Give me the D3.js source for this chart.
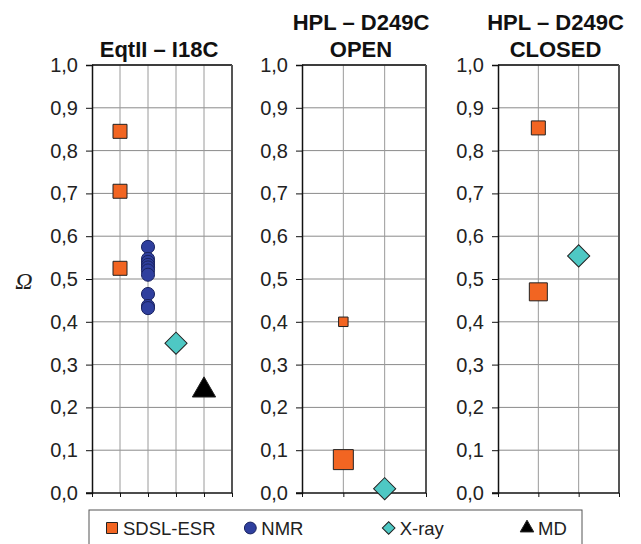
<!DOCTYPE html>
<html>
<head>
<meta charset="utf-8">
<script src="https://cdn.jsdelivr.net/npm/d3@7"></script>
<style>
  body { margin: 0; background: #fff; }
</style>
</head>
<body>
<svg id="chart" width="641" height="544"></svg>
<script>
// data
const panelTitles = [["EqtII – I18C"], ["HPL – D249C", "OPEN"], ["HPL – D249C", "CLOSED"]];
const yTickValues = [0, 0.1, 0.2, 0.3, 0.4, 0.5, 0.6, 0.7, 0.8, 0.9, 1.0];
const seriesNames = ["SDSL-ESR", "NMR", "X-ray", "MD"];

// EqtII - I18C
const eqtSdsl = [0.845, 0.705, 0.525];
const eqtNmr = [0.575, 0.547, 0.54, 0.533, 0.527, 0.52, 0.51, 0.465, 0.437, 0.432];
const eqtXray = [0.35];
const eqtMd = [0.24];
// HPL - D249C open
const openSdsl = [0.40, 0.078];
const openXray = [0.01];
// HPL - D249C closed
const closedSdsl = [0.853, 0.47];
const closedXray = [0.554];

const FONT = "Liberation Sans, Arial, sans-serif";
const svg = d3.select("#chart");

const colors = {
  "SDSL-ESR": "#f26522",
  "NMR": "#2f3f9e",
  "X-ray": "#4ec8c4",
  "MD": "#000"
};

// marker sizes (area) per point, the original uses varying square sizes
const sdslSizes = [[196, 196, 196], [90, 400], [196, 324]];

const panels = [
  { x0: 92, x1: 232, n: 5, series: [
      { name: "SDSL-ESR", cat: 1, vals: eqtSdsl },
      { name: "NMR", cat: 2, vals: eqtNmr },
      { name: "X-ray", cat: 3, vals: eqtXray },
      { name: "MD", cat: 4, vals: eqtMd }
    ] },
  { x0: 302, x1: 426, n: 3, series: [
      { name: "SDSL-ESR", cat: 1, vals: openSdsl },
      { name: "X-ray", cat: 2, vals: openXray }
    ] },
  { x0: 498, x1: 619, n: 3, series: [
      { name: "SDSL-ESR", cat: 1, vals: closedSdsl },
      { name: "X-ray", cat: 2, vals: closedXray }
    ] }
];

const y = d3.scaleLinear().domain([0, 1]).range([493, 65]);
const fmt = (d) => d3.format(".1f")(d).replace(".", ",");

const symbolPath = (name, size) => {
  if (name === "NMR") return d3.symbol(d3.symbolCircle, size)();
  if (name === "MD") return d3.symbol(d3.symbolTriangle, size)();
  return d3.symbol(d3.symbolSquare, size)(); // squares, x-ray rotated to a diamond
};
const defaultSize = { "SDSL-ESR": 196, "NMR": 135, "X-ray": 245, "MD": 235 };

panels.forEach((p, pi) => {
  const x = d3.scaleLinear().domain([0, p.n]).range([p.x0, p.x1]);
  const g = svg.append("g");

  // grid
  g.selectAll(".hgrid")
    .data(yTickValues.slice(1))
    .enter()
    .append("line")
    .attr("x1", p.x0).attr("x2", p.x1)
    .attr("y1", (d) => y(d)).attr("y2", (d) => y(d))
    .attr("stroke", "#8a8a8a").attr("stroke-width", 1);
  g.selectAll(".vgrid")
    .data(d3.range(1, p.n))
    .enter()
    .append("line")
    .attr("x1", (d) => x(d)).attr("x2", (d) => x(d))
    .attr("y1", y(1)).attr("y2", y(0))
    .attr("stroke", "#9a9a9a").attr("stroke-width", 1);

  // top + right border
  g.append("line").attr("x1", p.x0).attr("x2", p.x1)
    .attr("y1", y(1)).attr("y2", y(1)).attr("stroke", "#111").attr("stroke-width", 1.5);
  g.append("line").attr("x1", p.x1).attr("x2", p.x1)
    .attr("y1", y(1)).attr("y2", y(0)).attr("stroke", "#555").attr("stroke-width", 2);

  // y axis
  const ya = g.append("g")
    .attr("transform", `translate(${p.x0},0)`)
    .call(d3.axisLeft(y).tickValues(yTickValues).tickFormat(fmt).tickSize(6).tickPadding(8));
  ya.select(".domain").attr("stroke", "#111").attr("stroke-width", 1.5);
  ya.selectAll(".tick line").attr("stroke", "#111");
  ya.selectAll("text").attr("font-size", 20).attr("font-family", FONT).attr("fill", "#222");

  // x axis (no labels)
  const xa = g.append("g")
    .attr("transform", `translate(0,${y(0)})`)
    .call(d3.axisBottom(x).tickValues(d3.range(0, p.n + 1)).tickSize(4).tickFormat(""));
  xa.select(".domain").remove();
  xa.selectAll(".tick line").attr("stroke", "#111");
  g.append("line").attr("x1", p.x0 - 6).attr("x2", p.x1)
    .attr("y1", y(0)).attr("y2", y(0)).attr("stroke", "#111").attr("stroke-width", 1.5);

  // title
  const cx = (p.x0 + p.x1) / 2 - 3;
  const t = svg.append("text")
    .attr("text-anchor", "middle")
    .attr("font-family", FONT)
    .attr("font-size", 22)
    .attr("font-weight", "bold")
    .attr("fill", "#111");
  const lines = panelTitles[pi];
  lines.forEach((l, li) => {
    t.append("tspan")
      .attr("x", cx)
      .attr("y", 57 - (lines.length - 1 - li) * 27)
      .text(l);
  });

  // markers
  p.series.forEach((s) => {
    g.selectAll(null)
      .data(s.vals)
      .enter()
      .append("path")
      .attr("d", (d, i) => symbolPath(s.name,
        s.name === "SDSL-ESR" ? sdslSizes[pi][i] : defaultSize[s.name]))
      .attr("transform", (d) => `translate(${x(s.cat)},${y(d)})` +
        (s.name === "X-ray" ? " rotate(45)" : ""))
      .attr("fill", colors[s.name])
      .attr("stroke", s.name === "NMR" ? "#1a2360" : "#222")
      .attr("stroke-width", 1);
  });
});

// Omega axis label
svg.append("text")
  .attr("x", 24).attr("y", 289)
  .attr("text-anchor", "middle")
  .attr("font-family", "Liberation Serif, Times New Roman, serif")
  .attr("font-style", "italic")
  .attr("font-size", 24)
  .attr("fill", "#222")
  .text("Ω");

// legend
const legend = svg.append("g");
legend.append("rect")
  .attr("x", 89).attr("y", 510).attr("width", 493).attr("height", 40)
  .attr("fill", "none").attr("stroke", "#555").attr("stroke-width", 1);
const legendX = d3.scalePoint().domain(seriesNames).range([112, 527]);
const legendSizes = { "SDSL-ESR": 121, "NMR": 110, "X-ray": 80, "MD": 80 };
const item = legend.selectAll(".item")
  .data(seriesNames)
  .enter()
  .append("g")
  .attr("transform", (d) => `translate(${legendX(d)},528)`);
item.append("path")
  .attr("d", (d) => symbolPath(d, legendSizes[d]))
  .attr("transform", (d) => (d === "X-ray" ? "rotate(45)" : ""))
  .attr("fill", (d) => colors[d])
  .attr("stroke", (d) => (d === "NMR" ? "#1a2360" : "#222"))
  .attr("stroke-width", 1);
item.append("text")
  .attr("x", 11).attr("y", 6.5)
  .attr("font-family", FONT)
  .attr("font-size", 18.5)
  .attr("fill", "#222")
  .text((d) => d);
</script>
</body>
</html>
